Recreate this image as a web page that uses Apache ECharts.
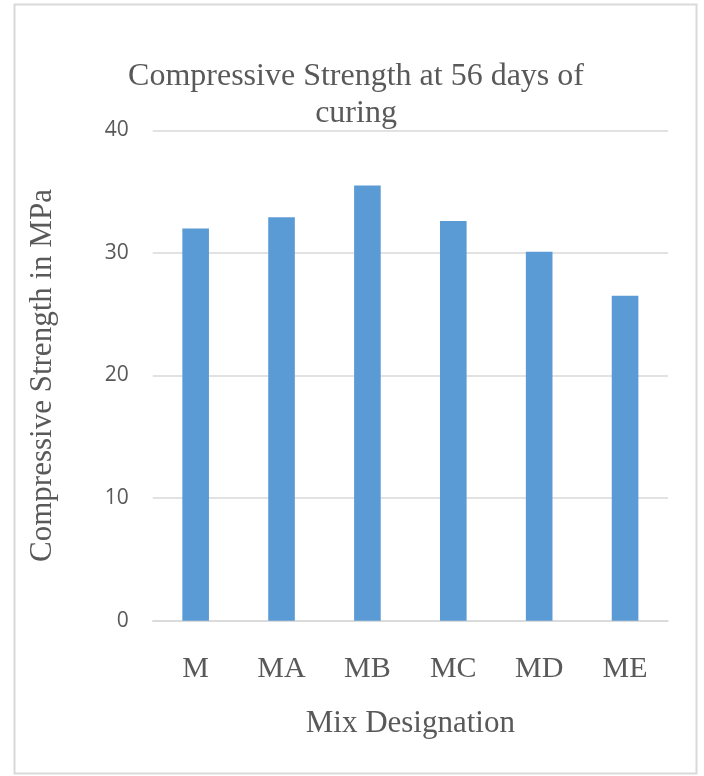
<!DOCTYPE html>
<html>
<head>
<meta charset="utf-8">
<script src="https://cdn.jsdelivr.net/npm/echarts@6/dist/echarts.min.js"></script>
<style>
  html, body { margin: 0; padding: 0; background: #ffffff; }
  #chart { width: 704px; height: 776px; }
</style>
</head>
<body>
<div id="chart"></div>
<script>
// Mix designations and their 56-day compressive strength (MPa)
const mixes = ['M', 'MA', 'MB', 'MC', 'MD', 'ME'];
const strength = [32.0, 32.9, 35.5, 32.6, 30.1, 26.5];
const yTicks = [0, 10, 20, 30, 40];

const SERIF = '"Liberation Serif", "Times New Roman", serif';
const SANS = '"Open Sans", "Liberation Sans", sans-serif';
const TEXT = '#595959';
const GRID = '#d9d9d9';

const chart = echarts.init(document.getElementById('chart'), null, { renderer: 'canvas' });

chart.setOption({
  animation: false,
  backgroundColor: '#ffffff',
  title: {
    text: 'Compressive Strength at 56 days of\ncuring',
    left: 356,
    top: 58,
    textAlign: 'center',
    padding: 0,
    textStyle: {
      fontFamily: SERIF,
      fontSize: 32,
      fontWeight: 'normal',
      color: TEXT,
      lineHeight: 37
    }
  },
  graphic: [{
    type: 'rect',
    silent: true,
    z: -1,
    shape: { x: 14.5, y: 4.5, width: 682, height: 769 },
    style: { fill: 'none', stroke: GRID, lineWidth: 2 }
  }],
  grid: {
    left: 152.7,
    right: 36,
    top: 130.3,
    bottom: 155.3,
    containLabel: false
  },
  xAxis: {
    type: 'category',
    data: mixes,
    name: 'Mix Designation',
    nameLocation: 'middle',
    nameGap: 88,
    nameTextStyle: { fontFamily: SERIF, fontSize: 31, color: TEXT },
    axisLine: { show: true, lineStyle: { color: GRID, width: 1.5 } },
    axisTick: { show: false },
    axisLabel: { margin: 33, fontFamily: SERIF, fontSize: 30, color: TEXT }
  },
  yAxis: {
    type: 'value',
    min: yTicks[0],
    max: yTicks[yTicks.length - 1],
    interval: 10,
    name: 'Compressive Strength in MPa',
    nameLocation: 'middle',
    nameRotate: 90,
    nameGap: 94,
    nameTextStyle: { fontFamily: SERIF, fontSize: 31, color: TEXT },
    axisLine: { show: false },
    axisTick: { show: false },
    axisLabel: { margin: 24, fontFamily: SANS, fontSize: 21, color: TEXT },
    splitLine: { show: true, lineStyle: { color: GRID, width: 1.5 } }
  },
  series: [{
    type: 'bar',
    data: strength,
    barWidth: '31%',
    itemStyle: { color: '#5b9bd5' }
  }]
});
</script>
</body>
</html>
